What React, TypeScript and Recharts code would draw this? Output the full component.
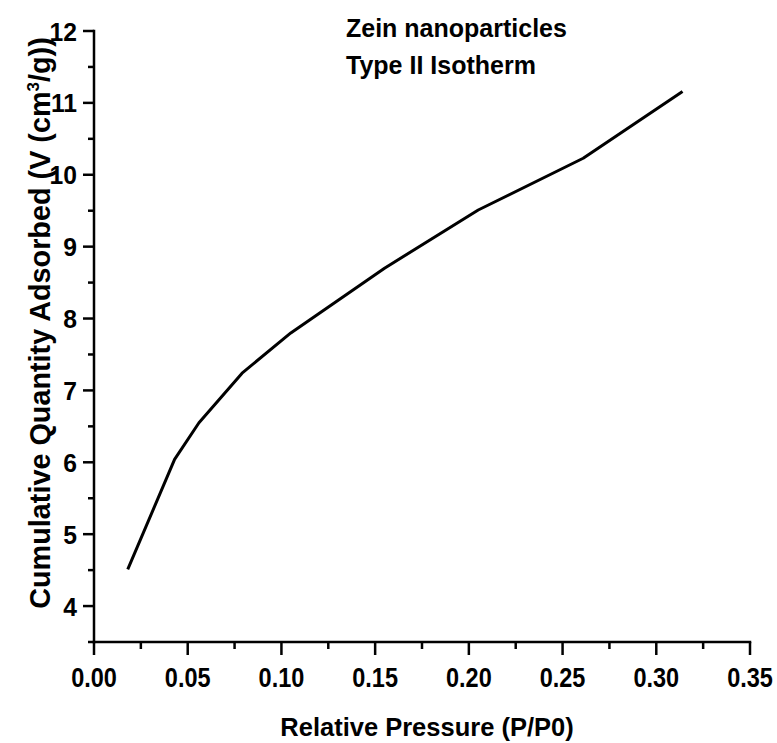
import React from "react";
import { LineChart, Line, XAxis, YAxis } from "recharts";

const pressure = [0.018, 0.043, 0.056, 0.079, 0.105, 0.155, 0.205, 0.261, 0.314];
const adsorbed = [4.51, 6.04, 6.55, 7.24, 7.8, 8.7, 9.51, 10.23, 11.16];

const xTicks = [
  0, 0.025, 0.05, 0.075, 0.1, 0.125, 0.15, 0.175, 0.2, 0.225, 0.25, 0.275, 0.3, 0.325, 0.35,
];
const yTicks = [3.5, 4, 4.5, 5, 5.5, 6, 6.5, 7, 7.5, 8, 8.5, 9, 9.5, 10, 10.5, 11, 11.5, 12];

const titleLines = ["Zein nanoparticles", "Type II Isotherm"];

const data = pressure.map((p, i) => ({ p, v: adsorbed[i] }));

const FONT = '"Liberation Sans", Arial, sans-serif';

const XTick = (props: any) => {
  const { x, y, payload } = props;
  const v = payload.value as number;
  const major = Math.abs(v * 20 - Math.round(v * 20)) < 1e-6;
  return (
    <g>
      <line x1={x} x2={x} y1={y} y2={y + (major ? 13 : 7)} stroke="#000" strokeWidth={2.5} />
      {major && (
        <text
          transform={`translate(${x},${y + 45}) scale(0.87,1)`}
          textAnchor="middle"
          fontFamily={FONT}
          fontWeight="bold"
          fontSize={27}
          fill="#000"
        >
          {v.toFixed(2)}
        </text>
      )}
    </g>
  );
};

const YTick = (props: any) => {
  const { x, y, payload } = props;
  const v = payload.value as number;
  const major = Number.isInteger(v);
  return (
    <g>
      <line x1={x} x2={x - (major ? 11 : 6)} y1={y} y2={y} stroke="#000" strokeWidth={2.5} />
      {major && (
        <text
          transform={`translate(${x - 17},${y + 9.5}) scale(0.95,1)`}
          textAnchor="end"
          fontFamily={FONT}
          fontWeight="bold"
          fontSize={26}
          fill="#000"
        >
          {v}
        </text>
      )}
    </g>
  );
};

export default function App() {
  return (
    <div style={{ position: "absolute", left: 0, top: 0, width: 777, height: 743, background: "#fff" }}>
      <LineChart
        width={777}
        height={743}
        data={data}
        margin={{ top: 31, right: 27, bottom: 41, left: 0 }}
      >
        <XAxis
          dataKey="p"
          type="number"
          domain={[0, 0.35]}
          ticks={xTicks}
          interval={0}
          height={60}
          tickSize={0}
          tickMargin={0}
          tick={<XTick />}
          tickLine={false}
          axisLine={{ stroke: "#000", strokeWidth: 2.5, strokeLinecap: "square" }}
        />
        <YAxis
          dataKey="v"
          type="number"
          domain={[3.5, 12]}
          ticks={yTicks}
          interval={0}
          width={94}
          tickSize={0}
          tickMargin={0}
          tick={<YTick />}
          tickLine={false}
          axisLine={{ stroke: "#000", strokeWidth: 2.5, strokeLinecap: "square" }}
        />
        <Line
          type="linear"
          dataKey="v"
          stroke="#000"
          strokeWidth={3}
          strokeLinejoin="round"
          dot={false}
          activeDot={false}
          isAnimationActive={false}
        />
      </LineChart>
      <svg
        width={777}
        height={743}
        style={{ position: "absolute", left: 0, top: 0, pointerEvents: "none" }}
        fontFamily={FONT}
        fontWeight="bold"
        fill="#000"
      >
        {titleLines.map((t, i) => (
          <text key={t} x={346} y={37 + i * 37} fontSize={25}>
            {t}
          </text>
        ))}
        <text x={427} y={736} fontSize={25.5} textAnchor="middle">
          Relative Pressure (P/P0)
        </text>
        <text transform="translate(50,323) rotate(-90)" fontSize={28.8} textAnchor="middle">
          Cumulative Quantity Adsorbed (V (cm
          <tspan fontSize={17} dy={-11}>3</tspan>
          <tspan dy={11}>/g))</tspan>
        </text>
      </svg>
    </div>
  );
}
